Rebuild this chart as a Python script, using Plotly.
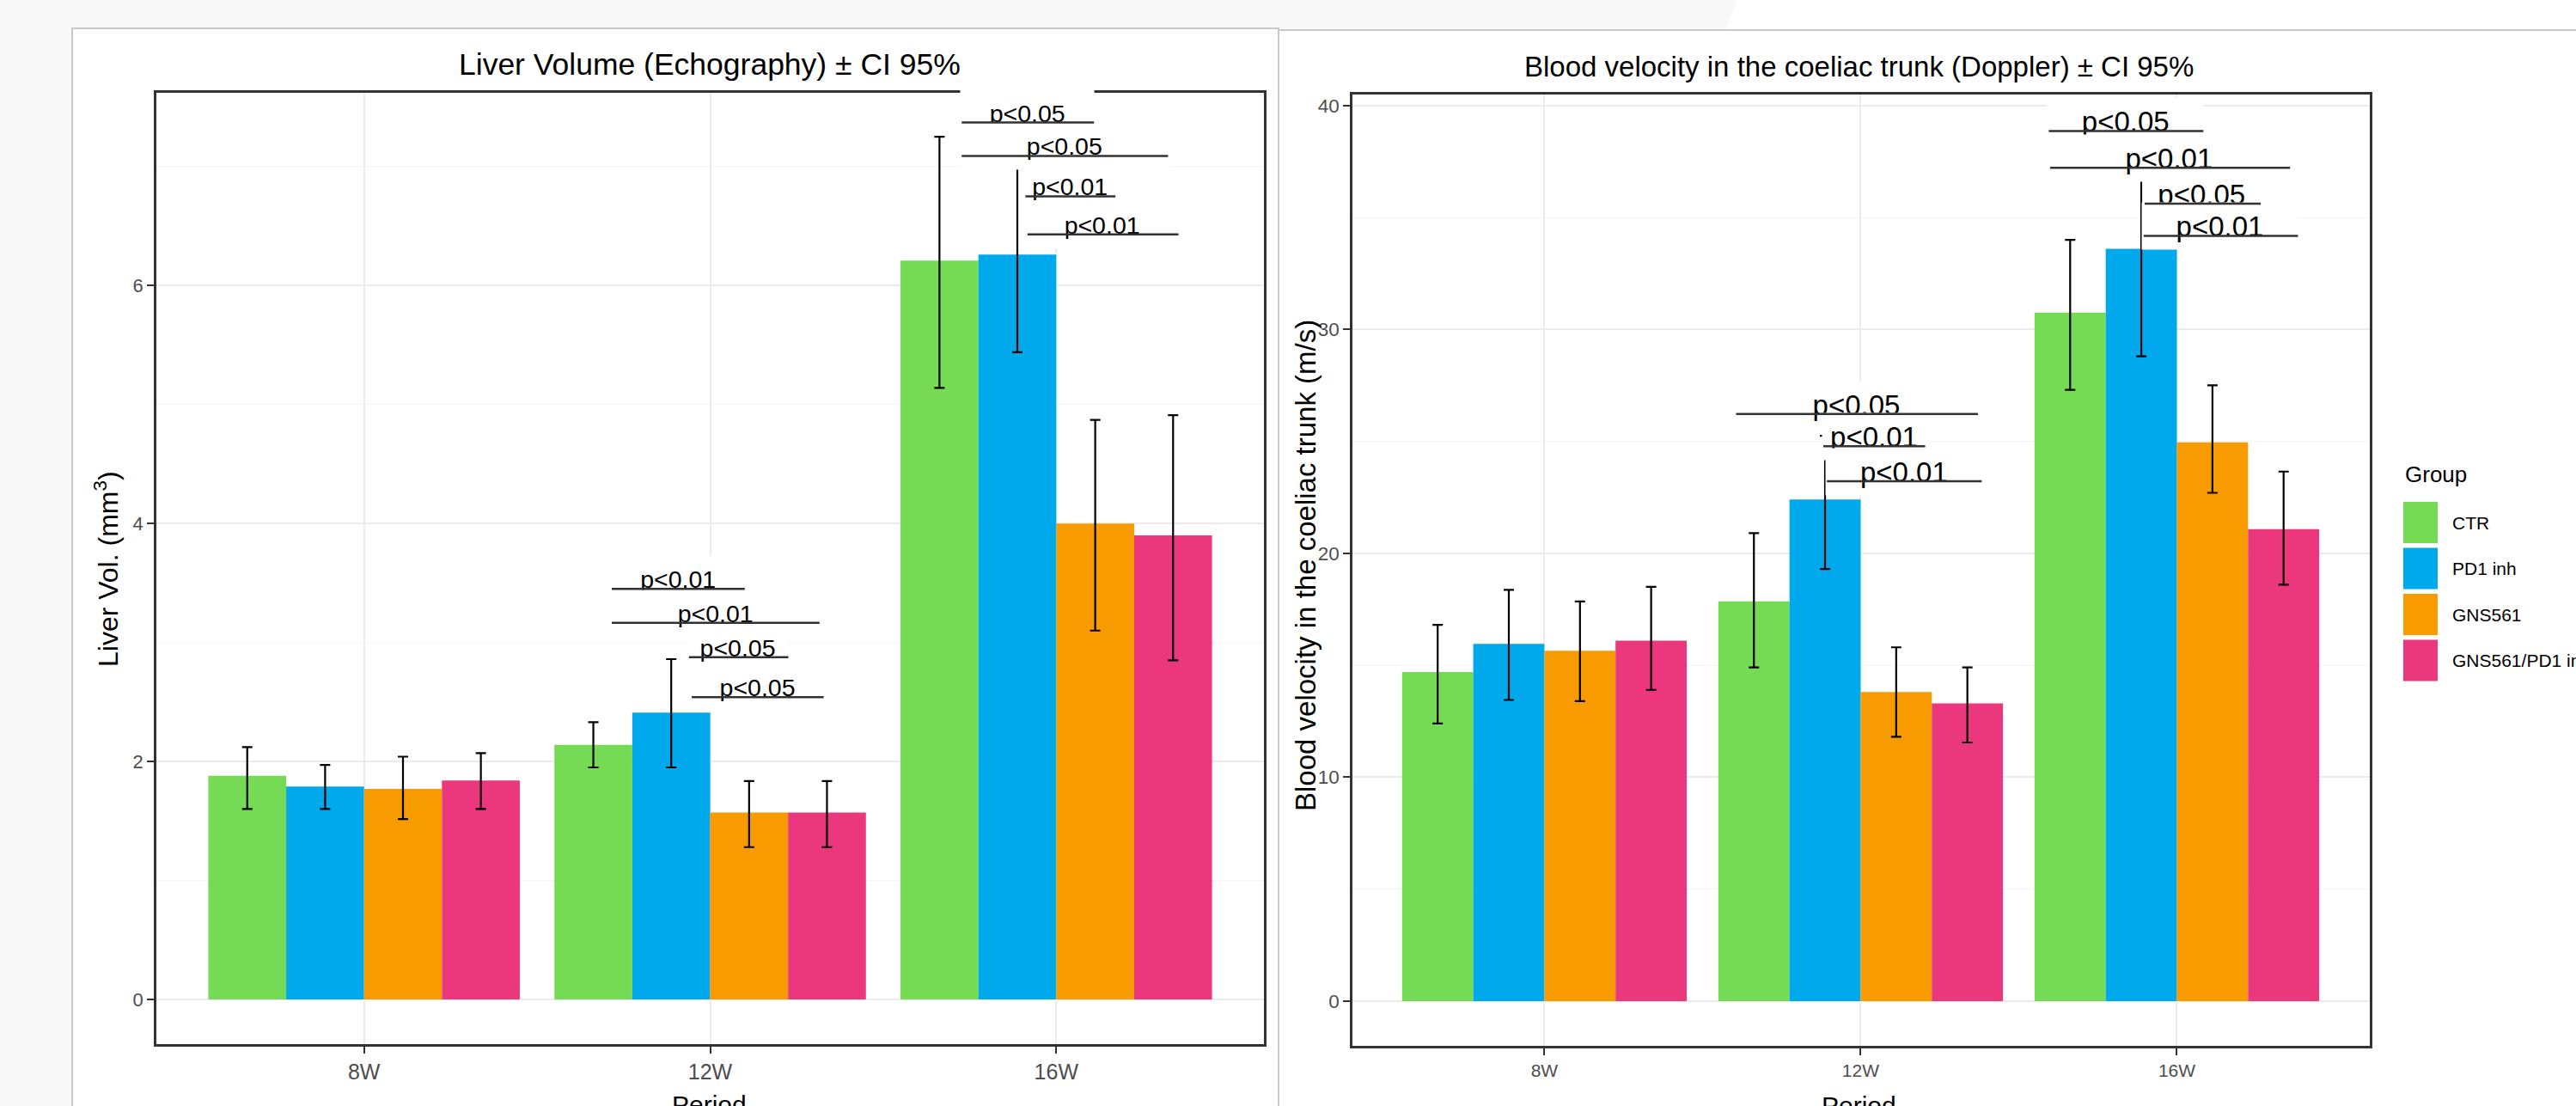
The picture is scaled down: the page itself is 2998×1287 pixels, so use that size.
import plotly.graph_objects as go

W, H = 2998, 1287
FONT = "Liberation Sans, Arial, Helvetica, sans-serif"

periods = ["8W", "12W", "16W"]
groups = ["CTR", "PD1 inh", "GNS561", "GNS561/PD1 inh"]
colors = ["#76DB54", "#00A8EC", "#F89B00", "#EB377B"]

# Liver volume (mm3): rows = groups, columns = periods
liver_mean = [[1.88, 2.14, 6.21], [1.79, 2.41, 6.26], [1.77, 1.57, 4.00], [1.84, 1.57, 3.90]]
liver_low = [[1.60, 1.95, 5.14], [1.60, 1.95, 5.44], [1.515, 1.28, 3.10], [1.60, 1.28, 2.85]]
liver_high = [[2.12, 2.33, 7.25], [1.97, 2.86, 7.08], [2.04, 1.835, 4.87], [2.07, 1.835, 4.91]]

# Blood velocity in the coeliac trunk (m/s)
vel_mean = [[14.7, 17.85, 30.75], [15.95, 22.4, 33.6], [15.65, 13.8, 24.95], [16.1, 13.3, 21.08]]
vel_low = [[12.4, 14.9, 27.3], [13.45, 19.3, 28.8], [13.4, 11.8, 22.7], [13.9, 11.55, 18.6]]
vel_high = [[16.8, 20.9, 34.0], [18.37, 25.25, 38.4], [17.85, 15.8, 27.5], [18.5, 14.9, 23.65]]

# significance annotations (x in category index units)
liver_sig_labels = ["p<0.01", "p<0.01", "p<0.05", "p<0.05", "p<0.05", "p<0.05", "p<0.01", "p<0.01"]
liver_sig_y = [3.45, 3.165, 2.876, 2.54, 7.37, 7.09, 6.75, 6.43]
liver_sig_x0 = [0.712, 0.712, 0.935, 0.943, 1.723, 1.723, 1.907, 1.913]
liver_sig_x1 = [1.100, 1.316, 1.226, 1.328, 2.109, 2.323, 2.171, 2.353]

vel_sig_labels = ["p<0.05", "p<0.01", "p<0.01", "p<0.05", "p<0.01", "p<0.05", "p<0.01"]
vel_sig_y = [26.22, 24.78, 23.22, 38.86, 37.22, 35.62, 34.18]
vel_sig_x0 = [0.602, 0.878, 0.889, 1.591, 1.595, 1.894, 1.891]
vel_sig_x1 = [1.371, 1.204, 1.383, 2.084, 2.358, 2.265, 2.383]

# panel geometry (pixels)
L_PANEL = dict(x0=182, x1=1471, y0=108, y1=1215, xr=[-0.6, 2.6], yr=[-0.376, 7.62])
R_PANEL = dict(x0=1574, x1=2758, y0=110, y1=1217, xr=[-0.607, 2.61], yr=[-2.0, 40.49])


def px(x):
    return x / W


def py(y):
    return 1 - y / H


fig = go.Figure()

for i, g in enumerate(groups):
    fig.add_trace(go.Bar(
        x=periods, y=liver_mean[i], name=g, showlegend=False,
        marker=dict(color=colors[i], line=dict(width=0)),
        error_y=dict(type="data", symmetric=False,
                     array=[h - m for h, m in zip(liver_high[i], liver_mean[i])],
                     arrayminus=[m - l for m, l in zip(liver_mean[i], liver_low[i])],
                     color="black", thickness=2.2, width=6),
        xaxis="x", yaxis="y"))
for i, g in enumerate(groups):
    fig.add_trace(go.Bar(
        x=periods, y=vel_mean[i], name=g, showlegend=False,
        marker=dict(color=colors[i], line=dict(width=0)),
        error_y=dict(type="data", symmetric=False,
                     array=[h - m for h, m in zip(vel_high[i], vel_mean[i])],
                     arrayminus=[m - l for m, l in zip(vel_mean[i], vel_low[i])],
                     color="black", thickness=2.2, width=6),
        xaxis="x2", yaxis="y2"))


def xaxis_cfg(p, fs):
    return dict(domain=[px(p["x0"]), px(p["x1"])], type="category",
                categoryorder="array", categoryarray=periods, range=p["xr"],
                showline=True, mirror=True, linecolor="#333333", linewidth=2.5,
                ticks="outside", ticklen=8, tickwidth=2, tickcolor="#333333",
                tickfont=dict(family=FONT, size=fs, color="#4D4D4D"),
                showgrid=True, gridcolor="#EBEBEB", gridwidth=2, zeroline=False,
                fixedrange=True)


def yaxis_cfg(p, fs, dt):
    return dict(domain=[py(p["y1"]), py(p["y0"])], range=p["yr"], tick0=0, dtick=dt,
                showline=True, mirror=True, linecolor="#333333", linewidth=2.5,
                ticks="outside", ticklen=8, tickwidth=2, tickcolor="#333333",
                tickfont=dict(family=FONT, size=fs, color="#4D4D4D"),
                showgrid=True, gridcolor="#EBEBEB", gridwidth=2, zeroline=False,
                minor=dict(dtick=dt / 2, tick0=0, showgrid=True, gridcolor="#F4F4F4",
                           gridwidth=1.3, ticks=""),
                fixedrange=True)


shapes = []
# page cards
shapes.append(dict(type="path", xref="paper", yref="paper", layer="below",
                   path=f"M {px(2022)} {py(0)} L {px(3000)} {py(0)} L {px(3000)} {py(35)} L {px(2008)} {py(35)} Z",
                   fillcolor="white", line=dict(width=0)))
shapes.append(dict(type="rect", xref="paper", yref="paper", layer="below",
                   x0=px(84), x1=px(1488), y0=py(1300), y1=py(33),
                   fillcolor="white", line=dict(color="#C9C9C9", width=2)))
shapes.append(dict(type="rect", xref="paper", yref="paper", layer="below",
                   x0=px(1488), x1=px(3010), y0=py(1300), y1=py(35),
                   fillcolor="white", line=dict(color="#C9C9C9", width=2)))

annotations = []


def sig_annotations(labels, ys, x0s, x1s, p, xref, yref, fs):
    scale = (p["x1"] - p["x0"]) / (p["xr"][1] - p["xr"][0])
    boxes, lines = [], []
    for lab, yv, a, b in zip(labels, ys, x0s, x1s):
        boxes.append(dict(x=(a + b) / 2, y=yv, xref=xref, yref=yref, text=lab,
                          showarrow=False, font=dict(family=FONT, size=fs, color="black"),
                          bgcolor="white", borderpad=0, width=(b - a) * scale, height=54,
                          xanchor="center", yanchor="middle", valign="middle", yshift=11))
        lines.append(dict(x=b, y=yv, ax=a, ay=yv, xref=xref, yref=yref, axref=xref, ayref=yref,
                          text="", showarrow=True, arrowhead=0, arrowwidth=2.5,
                          arrowcolor="#333333", standoff=0, startstandoff=0))
    return boxes, lines


b1, l1 = sig_annotations(liver_sig_labels, liver_sig_y, liver_sig_x0, liver_sig_x1, L_PANEL, "x", "y", 28.5)
b2, l2 = sig_annotations(vel_sig_labels, vel_sig_y, vel_sig_x0, vel_sig_x1, R_PANEL, "x2", "y2", 33)
annotations += b1 + b2 + l1 + l2

# titles
annotations.append(dict(x=px(826), y=py(75), xref="paper", yref="paper", showarrow=False,
                        text="Liver Volume (Echography) ± CI 95%", xanchor="center", yanchor="middle",
                        font=dict(family=FONT, size=35.5, color="black")))
annotations.append(dict(x=px(2163), y=py(78), xref="paper", yref="paper", showarrow=False,
                        text="Blood velocity in the coeliac trunk (Doppler) ± CI 95%", xanchor="center",
                        yanchor="middle", font=dict(family=FONT, size=33, color="black")))
# axis titles
annotations.append(dict(x=px(124), y=py(662), xref="paper", yref="paper", showarrow=False,
                        text="Liver Vol. (mm<sup>3</sup>)", textangle=-90, xanchor="center", yanchor="middle",
                        font=dict(family=FONT, size=32, color="black")))
annotations.append(dict(x=px(1519), y=py(658), xref="paper", yref="paper", showarrow=False,
                        text="Blood velocity in the coeliac trunk (m/s)", textangle=-90, xanchor="center",
                        yanchor="middle", font=dict(family=FONT, size=33, color="black")))
annotations.append(dict(x=px(826), y=py(1267), xref="paper", yref="paper", showarrow=False,
                        text="Period", xanchor="center", yanchor="top",
                        font=dict(family=FONT, size=30, color="black")))
annotations.append(dict(x=px(2163), y=py(1268), xref="paper", yref="paper", showarrow=False,
                        text="Period", xanchor="center", yanchor="top",
                        font=dict(family=FONT, size=30, color="black")))

# legend (drawn manually)
annotations.append(dict(x=px(2797), y=py(552), xref="paper", yref="paper", showarrow=False,
                        text="Group", xanchor="left", yanchor="middle",
                        font=dict(family=FONT, size=26, color="black")))
key_centers = [608, 661.5, 715, 768.5]
for i, g in enumerate(groups):
    c = key_centers[i]
    shapes.append(dict(type="rect", xref="paper", yref="paper", layer="above",
                       x0=px(2797), x1=px(2837), y0=py(c + 24), y1=py(c - 24),
                       fillcolor=colors[i], line=dict(width=0)))
    annotations.append(dict(x=px(2852), y=py(c), xref="paper", yref="paper", showarrow=False,
                            text=g, xanchor="left", yanchor="middle",
                            font=dict(family=FONT, size=21, color="black")))

fig.update_layout(
    width=W, height=H, autosize=False,
    margin=dict(l=0, r=0, t=0, b=0, pad=0),
    paper_bgcolor="#F8F8F8", plot_bgcolor="white",
    barmode="group", bargap=0.1, bargroupgap=0,
    showlegend=False,
    font=dict(family=FONT),
    xaxis=dict(**xaxis_cfg(L_PANEL, 25), anchor="y"),
    yaxis=dict(**yaxis_cfg(L_PANEL, 22, 2), anchor="x"),
    xaxis2=dict(**xaxis_cfg(R_PANEL, 21), anchor="y2"),
    yaxis2=dict(**yaxis_cfg(R_PANEL, 22.5, 10), anchor="x2"),
    shapes=shapes,
    annotations=annotations,
)

fig.write_html("out.html", config={"displayModeBar": False},
               post_script="document.body.style.margin='0';document.body.style.overflow='hidden';")
